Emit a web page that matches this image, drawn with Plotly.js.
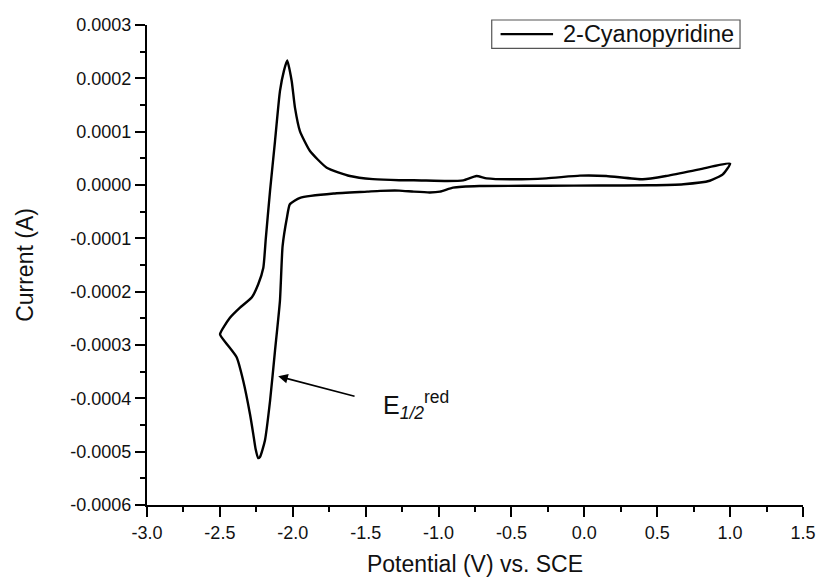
<!DOCTYPE html>
<html>
<head>
<meta charset="utf-8">
<script src="https://cdn.plot.ly/plotly-3.0.1.min.js"></script>
<style>
  html, body { margin: 0; padding: 0; background: #fff; }
  #chart { width: 819px; height: 580px; }
</style>
</head>
<body>
<div id="chart"></div>
<script>
// Cyclic voltammogram of 2-cyanopyridine, one closed sweep starting at +1.0 V
// (lower branch towards negative potential, then back along the upper branch).
const potential = [
  1.00, 0.95, 0.86, 0.68, 0.45, 0.10, -0.25, -0.37, -0.72, -0.90, -0.99, -1.06,
  -1.17, -1.27, -1.40, -1.49, -1.72, -1.95, -2.02, -2.04, -2.07, -2.088, -2.122,
  -2.156, -2.191, -2.225, -2.238, -2.255, -2.271, -2.294, -2.340, -2.385, -2.453,
  -2.499, -2.431, -2.362, -2.282, -2.237, -2.202, -2.185, -2.156, -2.122, -2.088,
  -2.06, -2.038, -2.0075, -1.985, -1.951, -1.882, -1.767, -1.608, -1.45, -1.27,
  -1.17, -0.94, -0.83, -0.74, -0.67, -0.49, -0.26, -0.03, 0.15, 0.40, 0.56, 0.79, 1.00
];
const current = [
  4.0e-5, 2.0e-5, 0.8e-5, 0.15e-5, -0.05e-5, -0.1e-5, -0.15e-5, -0.15e-5, -0.2e-5,
  -0.5e-5, -1.25e-5, -1.4e-5, -1.25e-5, -1.05e-5, -1.1e-5, -1.25e-5, -1.6e-5,
  -2.4e-5, -3.6e-5, -6.1e-5, -1.15e-4, -2.17e-4, -3.11e-4, -4.05e-4, -4.79e-4,
  -5.10e-4, -5.12e-4, -4.95e-4, -4.67e-4, -4.29e-4, -3.67e-4, -3.23e-4, -2.98e-4,
  -2.80e-4, -2.49e-4, -2.30e-4, -2.11e-4, -1.86e-4, -1.55e-4, -1.0e-4, -0.11e-4,
  0.82e-4, 1.76e-4, 2.15e-4, 2.335e-4, 1.95e-4, 1.45e-4, 1.01e-4, 0.637e-4,
  0.324e-4, 0.169e-4, 0.11e-4, 0.09e-4, 0.09e-4, 0.075e-4, 0.088e-4, 0.169e-4,
  0.125e-4, 0.107e-4, 0.125e-4, 0.175e-4, 0.169e-4, 0.107e-4, 0.169e-4, 0.294e-4, 4.0e-5
];

const xTickVals = [-3.0, -2.5, -2.0, -1.5, -1.0, -0.5, 0.0, 0.5, 1.0, 1.5];
const xTickText = ['-3.0', '-2.5', '-2.0', '-1.5', '-1.0', '-0.5', '0.0', '0.5', '1.0', '1.5'];
const yTickVals = [0.0003, 0.0002, 0.0001, 0, -0.0001, -0.0002, -0.0003, -0.0004, -0.0005, -0.0006];
const yTickText = ['0.0003', '0.0002', '0.0001', '0.0000', '-0.0001', '-0.0002', '-0.0003',
                   '-0.0004', '-0.0005', '-0.0006'];

const seriesName = '2-Cyanopyridine';

const FONT = 'Liberation Sans, Arial, Helvetica, sans-serif';
const INK = '#111111';

const trace = {
  x: potential,
  y: current,
  type: 'scatter',
  mode: 'lines',
  name: seriesName,
  line: { color: '#000000', width: 2.4, shape: 'spline', smoothing: 0.5 }
};

const axisCommon = {
  showline: true,
  linecolor: '#000000',
  linewidth: 2,
  showgrid: false,
  zeroline: false,
  ticks: 'outside',
  ticklen: 10,
  tickwidth: 2,
  tickcolor: '#000000',
  tickfont: { family: FONT, size: 18, color: INK },
  mirror: false
};

// Compact boxed key in the upper right, drawn in paper coordinates
const key = { x0: 0.5255, x1: 0.904, y0: 0.9515, y1: 1.0104, lineX0: 0.539, lineX1: 0.619, textX: 0.631 };
const keyMid = (key.y0 + key.y1) / 2;

const layout = {
  width: 819,
  height: 580,
  margin: { l: 147, r: 16, t: 25, b: 75 },
  paper_bgcolor: '#ffffff',
  plot_bgcolor: '#ffffff',
  showlegend: false,
  xaxis: Object.assign({}, axisCommon, {
    range: [-3, 1.5],
    tickmode: 'array',
    tickvals: xTickVals,
    ticktext: xTickText,
    minor: { dtick: 0.25, tick0: 0, ticks: 'outside', ticklen: 5, tickwidth: 2, tickcolor: '#000000' },
    title: { text: 'Potential (V) vs. SCE', font: { family: FONT, size: 23, color: INK }, standoff: 14 }
  }),
  yaxis: Object.assign({}, axisCommon, {
    range: [-0.0006, 0.0003],
    tickmode: 'array',
    tickvals: yTickVals,
    ticktext: yTickText,
    minor: { dtick: 0.00005, tick0: 0, ticks: 'outside', ticklen: 5, tickwidth: 2, tickcolor: '#000000' },
    title: { text: 'Current (A)', font: { family: FONT, size: 23, color: INK }, standoff: 30 }
  }),
  shapes: [
    {
      type: 'rect', xref: 'paper', yref: 'paper',
      x0: key.x0, x1: key.x1, y0: key.y0, y1: key.y1,
      line: { color: '#555555', width: 1.2 }, fillcolor: '#ffffff'
    },
    {
      type: 'line', xref: 'paper', yref: 'paper',
      x0: key.lineX0, x1: key.lineX1, y0: keyMid, y1: keyMid,
      line: { color: '#000000', width: 2.4 }
    }
  ],
  annotations: [
    {
      x: key.textX, y: keyMid, xref: 'paper', yref: 'paper',
      xanchor: 'left', yanchor: 'middle',
      text: seriesName, showarrow: false,
      font: { family: FONT, size: 23.5, color: INK }
    },
    {
      // arrow pointing at the half-wave potential on the cathodic branch
      x: -2.10, y: -0.0003586, xref: 'x', yref: 'y',
      ax: -1.566, ay: -0.000397, axref: 'x', ayref: 'y',
      text: '', showarrow: true,
      arrowhead: 2, arrowsize: 1.2, arrowwidth: 1.6, arrowcolor: '#000000'
    },
    {
      x: -1.397, y: -0.000412, xref: 'x', yref: 'y',
      xanchor: 'left', yanchor: 'middle',
      text: 'E<sub><i>1/2</i></sub><sup>red</sup>',
      showarrow: false,
      font: { family: FONT, size: 25, color: INK }
    }
  ]
};

Plotly.newPlot('chart', [trace], layout, { displayModeBar: false, staticPlot: true });
</script>
</body>
</html>
